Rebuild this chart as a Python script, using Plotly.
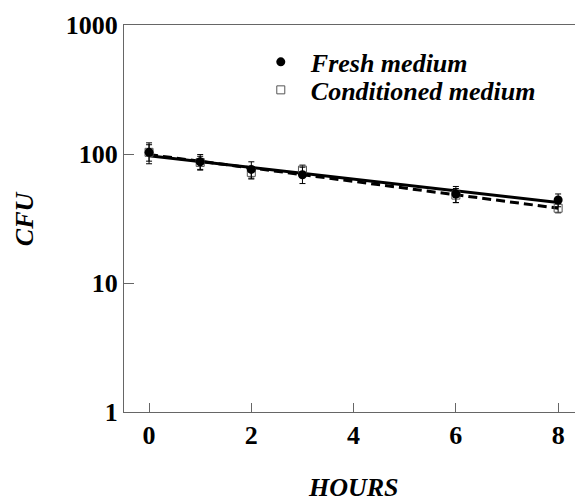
import plotly.graph_objects as go

hours = [0, 1, 2, 3, 6, 8]
fresh = [103, 87, 76, 69, 49, 44]
fresh_err = [19, 12, 11, 10, 7, 5]
cond = [103, 86, 72, 75, 48, 38]
cond_err = [15, 10, 8, 7, 6, 3]

fit_x = [0, 8]
fresh_fit = [97, 42]
cond_fit = [99, 38]

FONT = "Liberation Serif"
FS = 26

fig = go.Figure()
fig.add_trace(go.Scatter(x=fit_x, y=fresh_fit, mode="lines",
                         line=dict(color="black", width=3), showlegend=False))
fig.add_trace(go.Scatter(x=fit_x, y=cond_fit, mode="lines",
                         line=dict(color="black", width=3, dash="9px,5px"), showlegend=False))
fig.add_trace(go.Scatter(x=hours, y=cond, mode="markers", name="Conditioned medium", legend="legend2",
                         marker=dict(symbol="square-open", size=8, color="#555", line=dict(width=1, color="#555")),
                         error_y=dict(type="data", array=cond_err, color="black", thickness=1, width=3)))
fig.add_trace(go.Scatter(x=hours, y=fresh, mode="markers", name="Fresh medium", legend="legend",
                         marker=dict(symbol="circle", size=9, color="black"),
                         error_y=dict(type="data", array=fresh_err, color="black", thickness=1, width=3)))

H0, H1 = 25, 412.3   # top / bottom of plot area in px
W0, W1 = 124.3, 575
def px_y(p):
    return 1 - (p - H0) / (H1 - H0)
def px_x(p):
    return (p - W0) / (W1 - W0)

legfont = dict(family=FONT, size=FS, weight="bold", style="italic", color="black")
fig.update_layout(
    width=575, height=504,
    margin=dict(l=124, r=0, t=25, b=92),
    plot_bgcolor="white", paper_bgcolor="white",
    font=dict(family=FONT, color="black"),
    legend=dict(x=px_x(251), y=px_y(62), xanchor="left", yanchor="middle",
                bgcolor="rgba(0,0,0,0)", itemwidth=50, font=legfont),
    legend2=dict(x=px_x(251), y=px_y(90), xanchor="left", yanchor="middle",
                 bgcolor="rgba(0,0,0,0)", itemwidth=50, font=legfont),
    xaxis=dict(range=[-0.49, 8.33], tickvals=[0, 2, 4, 6, 8], ticks="inside", ticklen=9,
               tickcolor="#666", showline=True, linecolor="#666", linewidth=1, mirror=True,
               showgrid=False, zeroline=False,
               tickfont=dict(family=FONT, size=FS, weight="bold", color="black")),
    yaxis=dict(type="log", range=[0, 3], tickvals=[1, 10, 100, 1000], ticktext=["1", "10", "100", "1000"],
               ticks="inside", ticklen=10, tickcolor="#666", showline=True, linecolor="#666", linewidth=1,
               showgrid=False, zeroline=False,
               tickfont=dict(family=FONT, size=FS, weight="bold", color="black")),
    annotations=[
        dict(text="HOURS", x=4, xref="x", y=px_y(504), yref="paper", yanchor="bottom", showarrow=False,
             font=dict(family=FONT, size=FS, weight="bold", style="italic", color="black")),
        dict(text="CFU", x=px_x(25), xref="paper", y=0.5, yref="paper", xanchor="center",
             showarrow=False, textangle=-90,
             font=dict(family=FONT, size=FS, weight="bold", style="italic", color="black")),
    ],
)

fig.write_html("out.html")
